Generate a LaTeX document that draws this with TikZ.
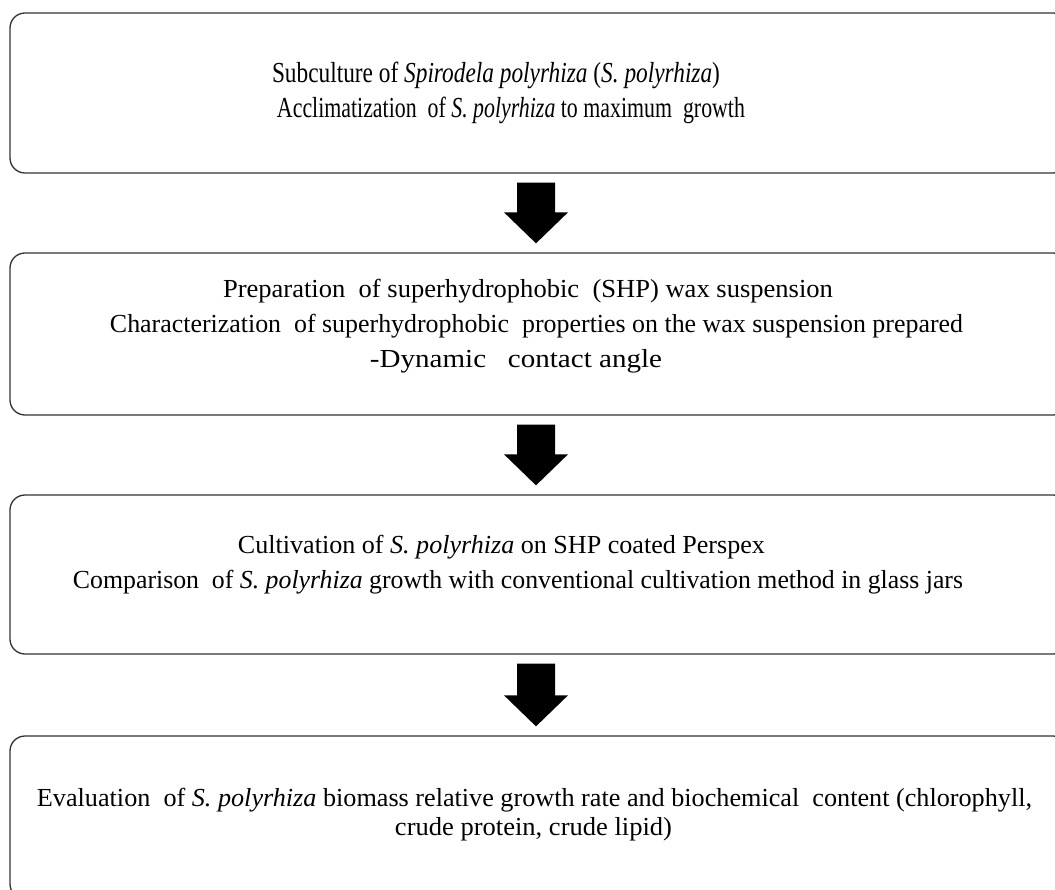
\documentclass[tikz,border=0pt]{standalone}
\usepackage{graphicx}
\usepackage{fontspec}
\setmainfont{Liberation Serif}
\usetikzlibrary{calc}
\newcommand\flowarrow[2]{%
  \fill[black] let \p1=($(#1.south)+(-3,9)$), \p2=($(#2.north)+(-3,-9)$) in
    (\x1-19pt,\y1) -- (\x1+19pt,\y1) -- (\x1+19pt,\y2+31pt) -- (\x1+32pt,\y2+31pt)
    -- (\x1,\y2) -- (\x1-32pt,\y2+31pt) -- (\x1-19pt,\y2+31pt) -- cycle;}
\newcommand\fitline[2]{\resizebox{#1pt}{\height}{#2}}
\begin{document}
\begin{tikzpicture}[x=1pt,y=-1pt,
  stagebox/.style={draw=black!80, line width=1.3pt, rounded corners=15pt,
    minimum width=1058pt, minimum height=#1, inner sep=0pt},
  txt/.style={anchor=base, inner sep=0pt, font=\fontsize{26}{30}\selectfont},
  bigtxt/.style={txt, font=\fontsize{29}{33}\selectfont}]
\useasboundingbox (0,0) rectangle (1055,890);
\clip (0,0) rectangle (1055,890);
\node[stagebox=160pt] (b1) at (539,93) {};
\node[stagebox=162pt] (b2) at (539,334) {};
\node[stagebox=159pt] (b3) at (539,574.5) {};
\node[stagebox=163pt] (b4) at (539,817.5) {};
\node[bigtxt] (t11) at (496,83) {\fitline{448}{Subculture of \textit{Spirodela polyrhiza} (\textit{S. polyrhiza})}};
\node[bigtxt] (t12) at (511,118) {\fitline{468}{Acclimatization\ \ of \textit{S. polyrhiza} to maximum\ \ growth}};
\node[txt] (t21) at (528,298) {\fitline{610}{Preparation\ \ of superhydrophobic\ \ (SHP) wax suspension}};
\node[txt] (t22) at (536.5,333) {\fitline{853}{Characterization\ \ of superhydrophobic\ \ properties on the wax suspension prepared}};
\node[txt] (t23) at (516,368) {\fitline{292}{-Dynamic\ \ \ contact angle}};
\node[txt] (t31) at (501.5,553) {\fitline{527}{Cultivation of \textit{S. polyrhiza} on SHP coated Perspex}};
\node[txt] (t32) at (518,588) {\fitline{890}{Comparison\ \ of \textit{S. polyrhiza} growth with conventional cultivation method in glass jars}};
\node[txt] (t41) at (534.5,806) {\fitline{995}{Evaluation\ \ of \textit{S. polyrhiza} biomass relative growth rate and biochemical\ \ content (chlorophyll,}};
\node[txt] (t42) at (533.5,835) {\fitline{277}{crude protein, crude lipid)}};
\flowarrow{b1}{b2}
\flowarrow{b2}{b3}
\flowarrow{b3}{b4}
\end{tikzpicture}
\end{document}
